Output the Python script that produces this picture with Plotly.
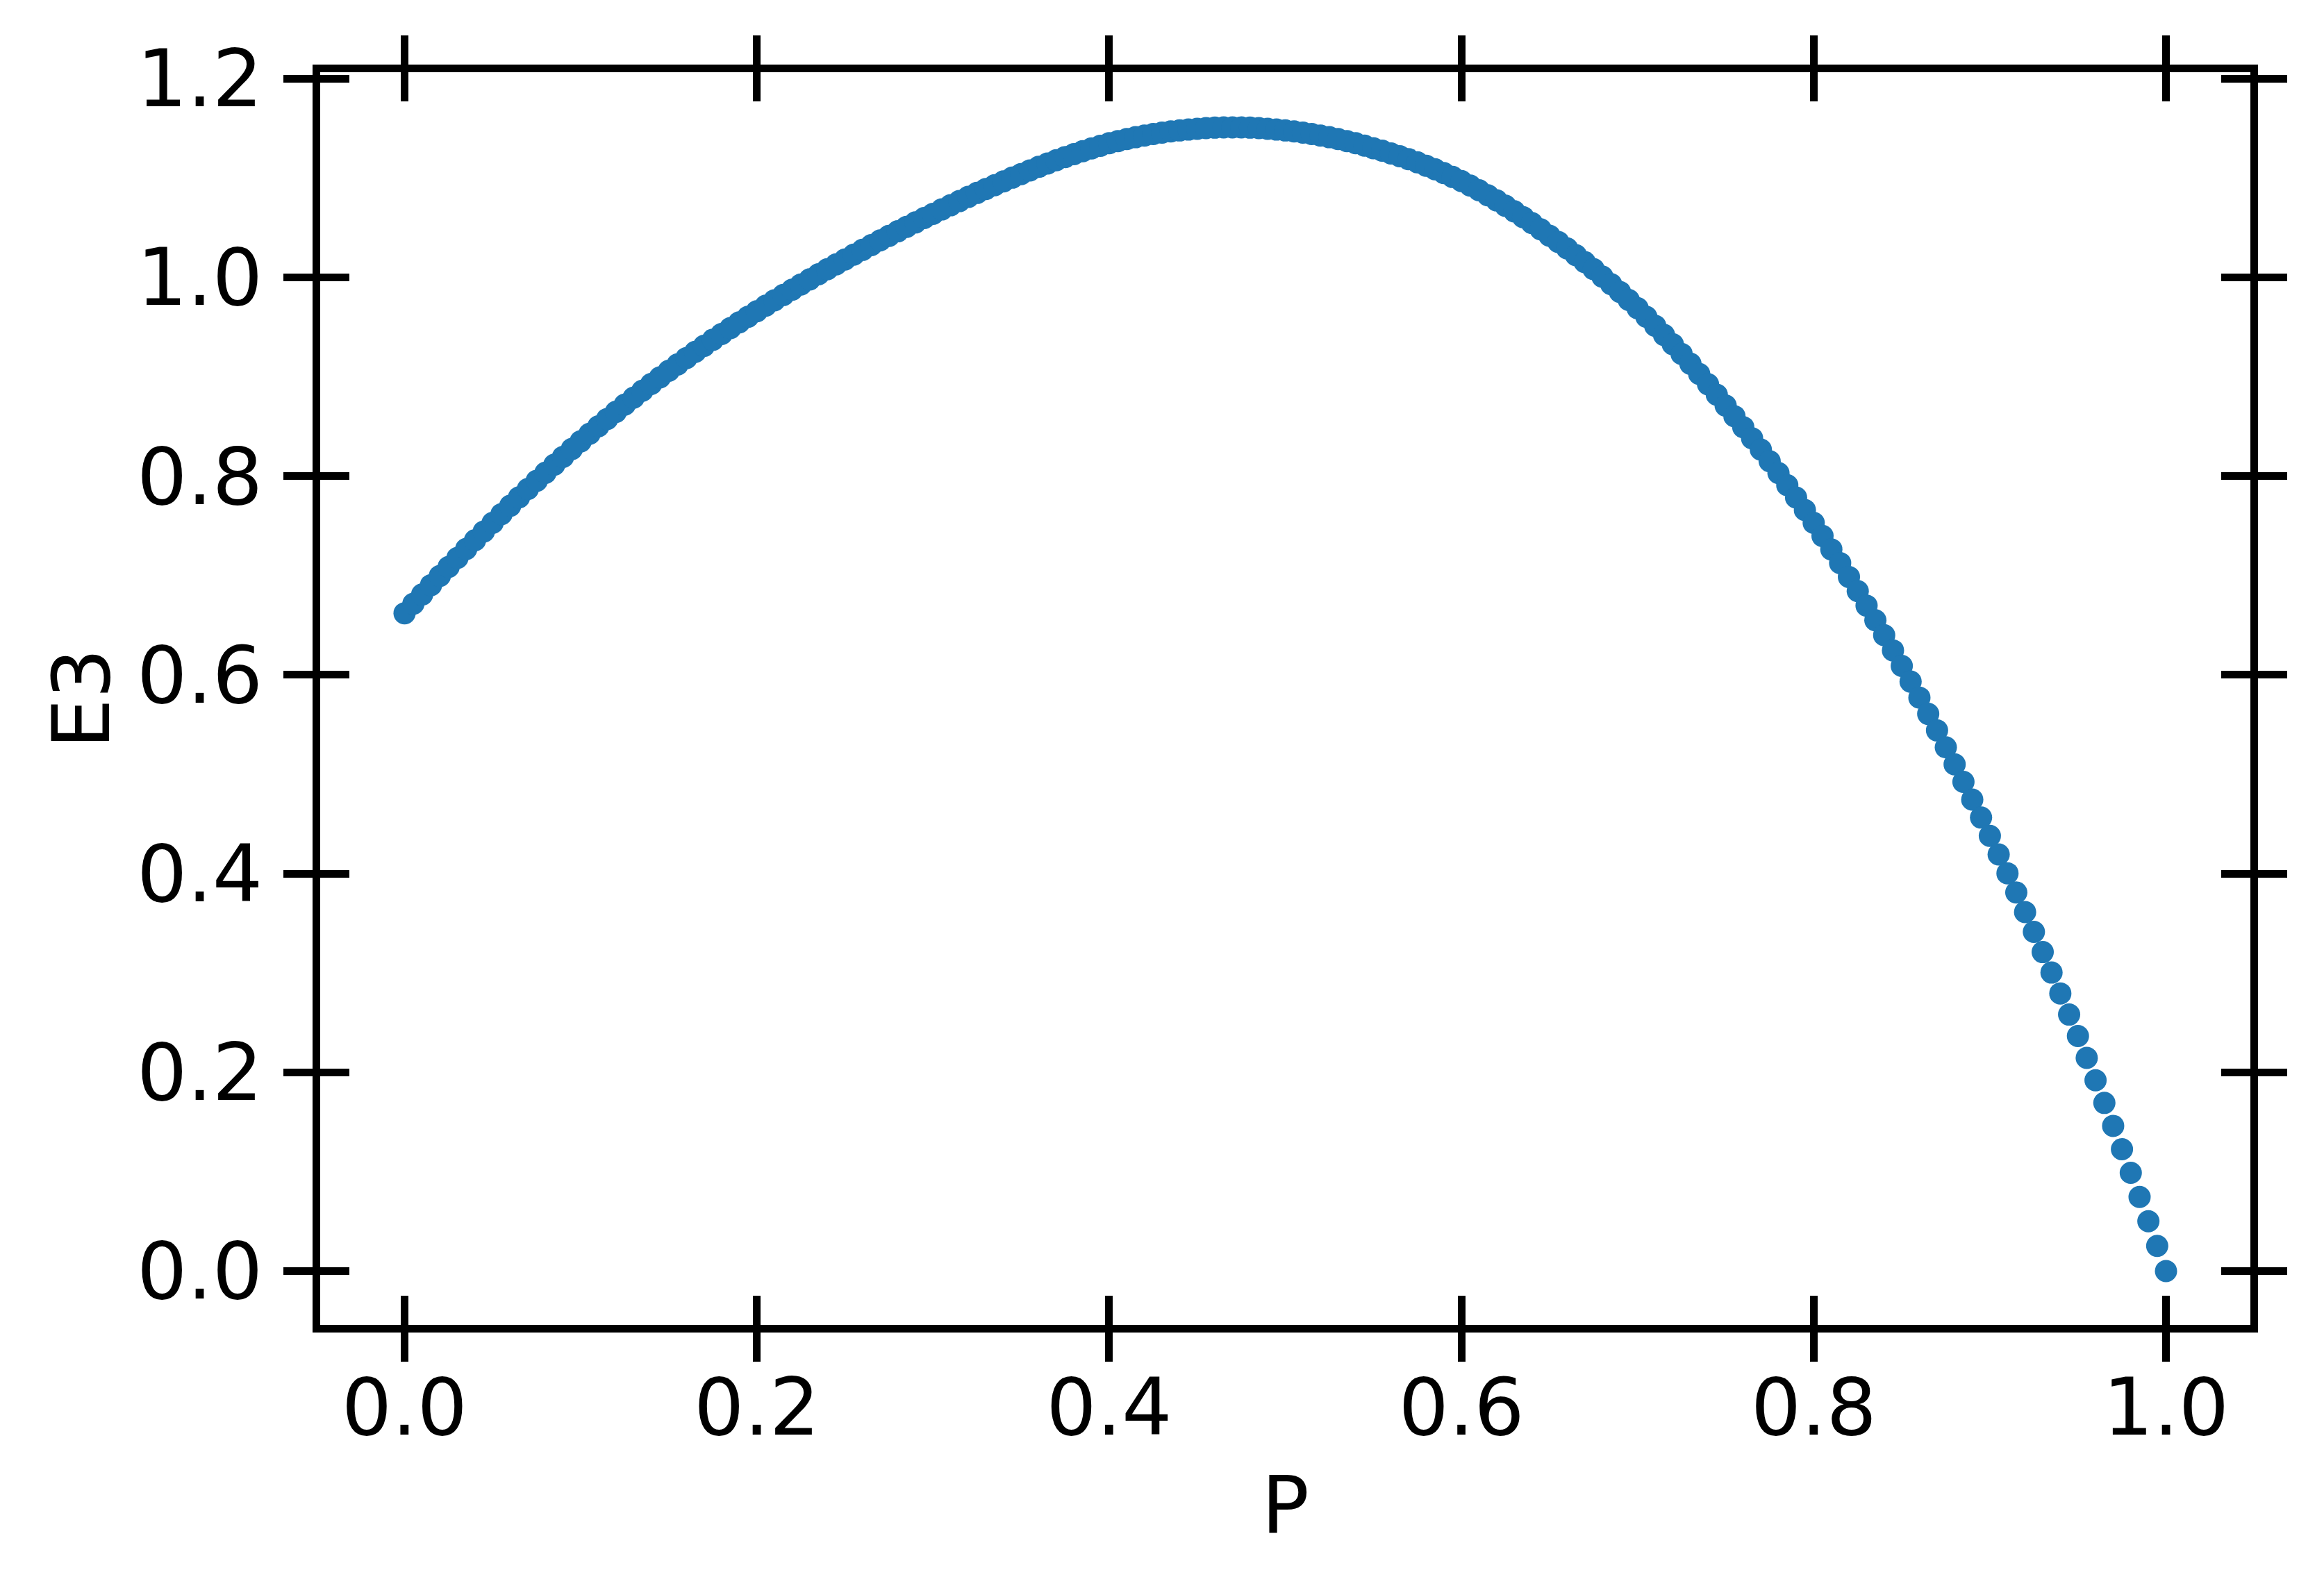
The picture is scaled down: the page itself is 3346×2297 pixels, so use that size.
import plotly.graph_objects as go

# P sampled every 0.005 from 0 to 1 (one row per 0.05)
p_values = [
    0.000, 0.005, 0.010, 0.015, 0.020, 0.025, 0.030, 0.035, 0.040, 0.045,
    0.050, 0.055, 0.060, 0.065, 0.070, 0.075, 0.080, 0.085, 0.090, 0.095,
    0.100, 0.105, 0.110, 0.115, 0.120, 0.125, 0.130, 0.135, 0.140, 0.145,
    0.150, 0.155, 0.160, 0.165, 0.170, 0.175, 0.180, 0.185, 0.190, 0.195,
    0.200, 0.205, 0.210, 0.215, 0.220, 0.225, 0.230, 0.235, 0.240, 0.245,
    0.250, 0.255, 0.260, 0.265, 0.270, 0.275, 0.280, 0.285, 0.290, 0.295,
    0.300, 0.305, 0.310, 0.315, 0.320, 0.325, 0.330, 0.335, 0.340, 0.345,
    0.350, 0.355, 0.360, 0.365, 0.370, 0.375, 0.380, 0.385, 0.390, 0.395,
    0.400, 0.405, 0.410, 0.415, 0.420, 0.425, 0.430, 0.435, 0.440, 0.445,
    0.450, 0.455, 0.460, 0.465, 0.470, 0.475, 0.480, 0.485, 0.490, 0.495,
    0.500, 0.505, 0.510, 0.515, 0.520, 0.525, 0.530, 0.535, 0.540, 0.545,
    0.550, 0.555, 0.560, 0.565, 0.570, 0.575, 0.580, 0.585, 0.590, 0.595,
    0.600, 0.605, 0.610, 0.615, 0.620, 0.625, 0.630, 0.635, 0.640, 0.645,
    0.650, 0.655, 0.660, 0.665, 0.670, 0.675, 0.680, 0.685, 0.690, 0.695,
    0.700, 0.705, 0.710, 0.715, 0.720, 0.725, 0.730, 0.735, 0.740, 0.745,
    0.750, 0.755, 0.760, 0.765, 0.770, 0.775, 0.780, 0.785, 0.790, 0.795,
    0.800, 0.805, 0.810, 0.815, 0.820, 0.825, 0.830, 0.835, 0.840, 0.845,
    0.850, 0.855, 0.860, 0.865, 0.870, 0.875, 0.880, 0.885, 0.890, 0.895,
    0.900, 0.905, 0.910, 0.915, 0.920, 0.925, 0.930, 0.935, 0.940, 0.945,
    0.950, 0.955, 0.960, 0.965, 0.970, 0.975, 0.980, 0.985, 0.990, 0.995,
    1.000,
]

e3_values = [
    0.6620, 0.6715, 0.6809, 0.6903, 0.6995, 0.7086, 0.7177, 0.7267, 0.7355, 0.7443,
    0.7530, 0.7617, 0.7702, 0.7787, 0.7870, 0.7953, 0.8034, 0.8115, 0.8194, 0.8273,
    0.8350, 0.8426, 0.8501, 0.8575, 0.8647, 0.8719, 0.8789, 0.8859, 0.8927, 0.8994,
    0.9060, 0.9124, 0.9188, 0.9250, 0.9311, 0.9372, 0.9431, 0.9490, 0.9548, 0.9604,
    0.9660, 0.9715, 0.9770, 0.9823, 0.9876, 0.9929, 0.9980, 1.0031, 1.0082, 1.0131,
    1.0180, 1.0229, 1.0277, 1.0325, 1.0372, 1.0418, 1.0464, 1.0509, 1.0553, 1.0597,
    1.0640, 1.0684, 1.0726, 1.0768, 1.0810, 1.0850, 1.0890, 1.0928, 1.0966, 1.1004,
    1.1040, 1.1077, 1.1112, 1.1146, 1.1179, 1.1211, 1.1241, 1.1270, 1.1298, 1.1325,
    1.1350, 1.1372, 1.1392, 1.1411, 1.1428, 1.1443, 1.1457, 1.1469, 1.1479, 1.1488,
    1.1495, 1.1502, 1.1507, 1.1509, 1.1510, 1.1509, 1.1507, 1.1502, 1.1496, 1.1488,
    1.1479, 1.1469, 1.1457, 1.1443, 1.1428, 1.1411, 1.1392, 1.1372, 1.1350, 1.1326,
    1.1300, 1.1275, 1.1248, 1.1220, 1.1190, 1.1158, 1.1124, 1.1088, 1.1050, 1.1011,
    1.0970, 1.0924, 1.0877, 1.0827, 1.0775, 1.0721, 1.0665, 1.0607, 1.0547, 1.0484,
    1.0420, 1.0357, 1.0292, 1.0224, 1.0154, 1.0083, 1.0008, 0.9932, 0.9854, 0.9773,
    0.9690, 0.9603, 0.9513, 0.9421, 0.9327, 0.9230, 0.9131, 0.9029, 0.8925, 0.8819,
    0.8710, 0.8603, 0.8493, 0.8381, 0.8267, 0.8150, 0.8031, 0.7909, 0.7785, 0.7659,
    0.7530, 0.7398, 0.7263, 0.7125, 0.6985, 0.6843, 0.6697, 0.6549, 0.6399, 0.6246,
    0.6090, 0.5932, 0.5771, 0.5607, 0.5441, 0.5271, 0.5099, 0.4923, 0.4745, 0.4564,
    0.4380, 0.4193, 0.4003, 0.3810, 0.3613, 0.3413, 0.3210, 0.3004, 0.2794, 0.2581,
    0.2365, 0.2145, 0.1920, 0.1692, 0.1461, 0.1226, 0.0988, 0.0746, 0.0501, 0.0253,
    0.0000,
]

x_ticks = [0.0, 0.2, 0.4, 0.6, 0.8, 1.0]
y_ticks = [0.0, 0.2, 0.4, 0.6, 0.8, 1.0, 1.2]

FONT = dict(family="DejaVu Sans", size=114, color="black")
LINE_W = 11
TICK_LEN = 42

fig = go.Figure()
fig.add_trace(go.Scatter(
    x=p_values, y=e3_values, mode="markers",
    marker=dict(color="#1f77b4", size=32, line=dict(width=0)),
    showlegend=False,
))
# invisible copy on the overlay axes so the inward ticks get drawn
fig.add_trace(go.Scatter(
    x=p_values, y=e3_values, mode="markers", xaxis="x2", yaxis="y2",
    marker=dict(opacity=0), hoverinfo="skip", showlegend=False,
))

axis_common = dict(
    showgrid=False, zeroline=False, showline=True, linecolor="black",
    linewidth=LINE_W, mirror="allticks", tickwidth=LINE_W, ticklen=TICK_LEN,
    tickcolor="black", tickfont=FONT, tickformat=".1f",
)

# ranges trimmed a little so the thick frame sits centred on the data limits
x_range = [-0.0479, 1.0479]
y_range = [-0.0542, 1.2065]

fig.update_layout(
    width=3346, height=2297,
    plot_bgcolor="white", paper_bgcolor="white",
    margin=dict(l=453, r=114, t=96, b=397),
    xaxis=dict(
        axis_common, range=x_range, tickvals=x_ticks, ticks="outside",
        ticklabelstandoff=-32,
        title=dict(text="P", font=FONT, standoff=40),
    ),
    yaxis=dict(
        axis_common, range=y_range, tickvals=y_ticks, ticks="outside",
        ticklabelstandoff=7,
        title=dict(text="E3", font=FONT, standoff=5),
    ),
    xaxis2=dict(
        axis_common, range=x_range, tickvals=x_ticks, ticks="inside",
        overlaying="x", anchor="y2", showticklabels=False,
    ),
    yaxis2=dict(
        axis_common, range=y_range, tickvals=y_ticks, ticks="inside",
        overlaying="y", anchor="x2", showticklabels=False,
    ),
)

fig.write_html("out.html")
